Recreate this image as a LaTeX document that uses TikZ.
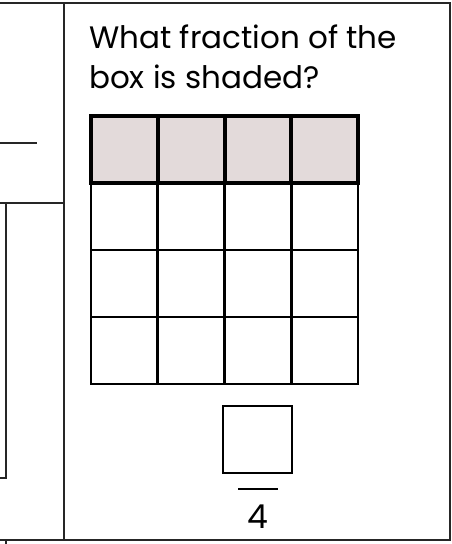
\documentclass[tikz,border=0pt]{standalone}
\usepackage{fontspec}
\setmainfont{Poppins}
\usepackage{tikz}
\usetikzlibrary{positioning}
\definecolor{shade}{RGB}{227,218,218}

\begin{document}
\begin{tikzpicture}[x=1pt, y=-1pt,
    panel/.style={line width=2.6pt, black!85},
    cell/.style={line width=2.6pt, black},
    topcell/.style={line width=4pt, black, fill=shade},
    question/.style={inner sep=0pt, anchor=base west, font=\fontsize{31}{40}\selectfont}]

    \useasboundingbox (0,0) rectangle (451,544);

    % Outer frame and panel divider
    \draw[panel] (0,3) -- (450,3) -- (450,540) -- (0,540);
    \draw[panel] (64,3) -- (64,540);

    % Left panel (cut off)
    \draw[panel] (0,143) -- (37,143);
    \draw[panel] (0,203) -- (64,203);
    \draw[panel] (0,478) -- (6,478) -- (6,203);
    \draw[panel] (6,541) -- (6,544);

    % Question text
    \node[question] (Q1) at (89,48) {What fraction of the};
    \node[question] (Q2) at (89,88) {box is shaded?};

    % The 4 x 4 box, top row shaded
    \foreach \c in {0,...,3} {
        \draw[topcell] (91+\c*66.75,116) rectangle ++(66.75,67);
        \foreach \r in {1,...,3}
            \draw[cell] (91+\c*66.75,116+\r*67) rectangle ++(66.75,67);
    }

    % Answer: numerator box over 4
    \node[draw, line width=2.6pt, minimum width=69pt, minimum height=67pt,
          inner sep=0pt] (num) at (257.5,439.5) {};
    \coordinate (barL) at (238,489);
    \coordinate (barR) at (278,489);
    \draw[line width=2.6pt] (barL) -- (barR);
    \node[inner sep=0pt, anchor=base, font=\fontsize{33}{33}\selectfont]
        (den) at (258,528) {4};
\end{tikzpicture}
\end{document}
